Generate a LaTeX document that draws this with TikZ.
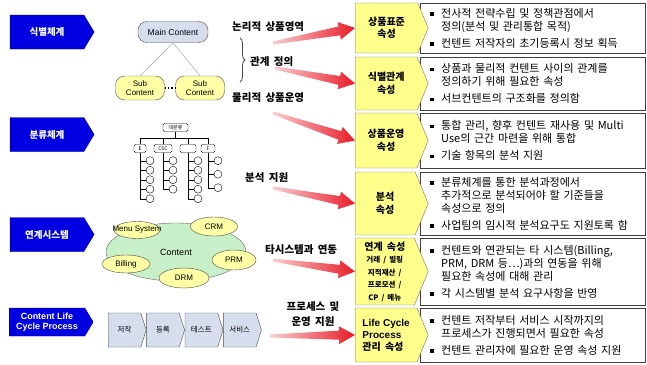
\documentclass[tikz,border=0pt]{standalone}
\usepackage{fontspec}
\setmainfont[WordSpace=1.8]{Noto Sans CJK KR}
\newfontfamily\latin{Liberation Sans}
\usepackage{xcolor}
\usepackage{tikz}
\usetikzlibrary{calc, positioning, shapes.geometric, shapes.symbols, decorations.pathreplacing, arrows.meta}

\definecolor{tabblue}{RGB}{0,0,225}
\definecolor{attryellow}{RGB}{255,255,140}
\definecolor{palegray}{RGB}{214,222,238}
\definecolor{subyellow}{RGB}{255,255,165}
\definecolor{cloudgreen}{RGB}{200,240,200}
\definecolor{arrowred}{RGB}{232,28,40}

\newcommand{\bul}{\makebox[11pt][l]{\rule[1.5pt]{3.5pt}{3.5pt}}}
\newcommand{\ind}{\hspace*{11pt}}
\newcommand{\smalltxt}{\fontsize{7.5}{11}\selectfont}
% 꼬리는 가늘고 머리 쪽은 굵은 빨간 화살표
\newcommand{\redarrow}[2]{%
    \coordinate (hb) at ($(#2)!16pt!(#1)$);
    \shade[left color=arrowred!22, right color=arrowred]
        ($(#1)!1.5pt!90:(#2)$) -- ($(hb)!4.5pt!90:(#2)$) -- ($(hb)!9pt!90:(#2)$)
        -- (#2) -- ($(hb)!9pt!-90:(#2)$) -- ($(hb)!4.5pt!-90:(#2)$)
        -- ($(#1)!1.5pt!-90:(#2)$) -- cycle;
}

\tikzset{
  tabarrow/.style={signal, signal to=east, signal pointer angle=118, fill=tabblue,
    draw=tabblue!60!black, text=white, font=\bfseries\fontsize{9.5}{11}\selectfont,
    minimum width=84pt, minimum height=34pt, inner sep=1pt, align=center},
  attrbox/.style={signal, signal to=east, signal pointer angle=135, fill=attryellow,
    draw=black!55, font=\bfseries\fontsize{10}{12.5}\selectfont,
    minimum width=73pt, inner sep=1pt, align=center, anchor=west},
  descbox/.style={rectangle, draw=black!75, fill=white, minimum width=225pt,
    text width=205pt, inner xsep=10pt, align=left, anchor=north west,
    font=\fontsize{11}{13}\selectfont},
  midlbl/.style={font=\bfseries\fontsize{10.5}{15}\selectfont, anchor=west, inner sep=0pt},
  mainnode/.style={rectangle, rounded corners=9pt, draw=black!70, fill=palegray,
    font=\latin\fontsize{8.5}{9}\selectfont, minimum width=70pt, minimum height=21pt, inner sep=1pt},
  subnode/.style={rectangle, rounded corners=9pt, draw=black!70, fill=subyellow,
    font=\latin\fontsize{8}{9.5}\selectfont, minimum width=49pt, minimum height=24pt,
    inner sep=1pt, align=center},
  treebox/.style={rectangle, rounded corners=1.5pt, draw, fill=white,
    font=\fontsize{5}{6}\selectfont, minimum height=8pt, inner sep=1pt},
  leaf/.style={circle, draw, fill=white, minimum size=8pt, inner sep=0pt},
  sysnode/.style={ellipse, draw=black!70, fill=subyellow, font=\latin\fontsize{8}{9}\selectfont, inner sep=0pt},
  stepnode/.style={signal, signal to=east, signal pointer angle=145, draw=black!70,
    fill=palegray, font=\fontsize{7.5}{9}\selectfont, minimum width=38pt,
    minimum height=34pt, inner sep=1pt},
}

\begin{document}
\begin{tikzpicture}[x=1pt, y=-1pt, >=Stealth]
    \useasboundingbox (0,0) rectangle (647,364);

    % 좌측 구분 라벨
    \node[tabarrow] (sik) at (47,32) {식별체계};
    \node[tabarrow] (bun) at (47,134.5) {분류체계};
    \node[tabarrow] (yeon) at (47,234.5) {연계시스템};
    \node[tabarrow, minimum height=28pt, font=\latin\bfseries\fontsize{9}{10.5}\selectfont] (clc) at (47,322) {Content Life\\Cycle Process};

    % 식별체계 그림
    \node[mainnode] (main) at (173,32) {Main Content};
    \node[subnode] (sub1) at (140,88) {Sub\\Content};
    \node[subnode] (sub2) at (200,88) {Sub\\Content};
    \draw[black!40] (main.south) -- (sub1.north);
    \draw[black!40] (main.south) -- (sub2.north);
    \draw[dotted, line width=1.3pt] (sub1) -- (sub2);

    % 분류체계 트리
    \node[treebox, minimum width=25pt] (dae) at (175.5,127.5) {대분류};
    \node[treebox, minimum width=12pt] (c1) at (140,148.5) {E};
    \node[treebox, minimum width=18pt] (c2) at (163,148.5) {CSC};
    \node[treebox, minimum width=16pt] (c3) at (188,148.5) {};
    \node[treebox, minimum width=14pt] (c4) at (208,148.5) {F};
    \draw (dae.south) -- ++(0,6) coordinate (bus);
    \foreach \c in {c1,c2,c3,c4}
        \draw (bus) -| (\c.north);
    \foreach \c/\n/\dy in {c1/5/9.5, c2/4/9.5, c3/5/9.5, c4/3/13.5}{
        \foreach \k in {1,...,\n}{
            \node[leaf] (\c-\k) at ($(\c.south)+(10,{8+(\k-1)*\dy})$) {};
            \draw (\c.south) |- (\c-\k.west);
        }
    }

    % 연계시스템 그림
    \node[ellipse, draw=black!60, fill=cloudgreen, minimum width=140pt, minimum height=58pt,
        font=\latin\fontsize{9}{10}\selectfont] (content) at (176,252) {Content};
    \node[sysnode, minimum width=46pt, minimum height=17pt, inner xsep=-10pt] (menu) at (137,230) {Menu System};
    \node[sysnode, minimum width=47pt, minimum height=19pt] (crm) at (214,226.5) {CRM};
    \node[sysnode, minimum width=48pt, minimum height=18pt] (billing) at (126,264) {Billing};
    \node[sysnode, minimum width=50pt, minimum height=20pt] (drm) at (184,278) {DRM};
    \node[sysnode, minimum width=44pt, minimum height=20pt] (prm) at (234,260) {PRM};

    % 프로세스
    \node[stepnode, anchor=west] (p1) at (108,330) {저작};
    \node[stepnode, right=0pt of p1] (p2) {등록};
    \node[stepnode, right=0pt of p2] (p3) {테스트};
    \node[stepnode, right=0pt of p3] (p4) {서비스};

    % 가운데 설명
    \node[midlbl] (logi) at (232,27) {논리적 상품영역};
    \node[midlbl] (rel) at (250,62) {관계 정의};
    \node[midlbl] (phys) at (232,98) {물리적 상품운영};
    \draw[black!70, line width=0.8pt, decorate, decoration={brace, amplitude=5pt}] (240,38) -- (240,82);
    \node[midlbl] (anal) at (245,178) {분석 지원};
    \node[midlbl] (inter) at (265,250) {타시스템과 연동};
    \node[midlbl, anchor=center, align=center] (proc) at (313,314) {프로세스 및\\운영 지원};

    % 우측 설명 박스
    \node[descbox, minimum height=50pt] (d1) at (420,3)
        {\bul 전사적 전략수립 및 정책관점에서\\\ind 정의(분석 및 관리통합 목적)\\[4pt]\bul 컨텐트 저작자의 초기등록시 정보 획득};
    \node[descbox, minimum height=53pt] (d2) at (420,57)
        {\bul 상품과 물리적 컨텐트 사이의 관계를\\\ind 정의하기 위해 필요한 속성\\[4pt]\bul 서브컨텐트의 구조화를 정의함};
    \node[descbox, minimum height=55pt] (d3) at (420,113)
        {\bul 통합 관리, 향후 컨텐트 재사용 및 Multi\\\ind Use의 근간 마련을 위해 통합\\[4pt]\bul 기술 항목의 분석 지원};
    \node[descbox, minimum height=63pt] (d4) at (420,172)
        {\bul 분류체계를 통한 분석과정에서\\\ind 추가적으로 분석되어야 할 기준들을\\\ind 속성으로 정의\\[4pt]\bul 사업팀의 임시적 분석요구도 지원토록 함};
    \node[descbox, minimum height=67pt] (d5) at (420,238)
        {\bul 컨텐트와 연관되는 타 시스템(Billing,\\\ind PRM, DRM 등…)과의 연동을 위해\\\ind 필요한 속성에 대해 관리\\[4pt]\bul 각 시스템별 분석 요구사항을 반영};
    \node[descbox, minimum height=54pt] (d6) at (420,308)
        {\bul 컨텐트 저작부터 서비스 시작까지의\\\ind 프로세스가 진행되면서 필요한 속성\\[4pt]\bul 컨텐트 관리자에 필요한 운영 속성 지원};

    % 속성 박스
    \node[attrbox, minimum height=50pt] (std) at (355,28) {상품표준\\속성};
    \node[attrbox, minimum height=53pt] (idrel) at (355,83.5) {식별관계\\속성};
    \node[attrbox, minimum height=55pt] (ops) at (355,140.5) {상품운영\\속성};
    \node[attrbox, minimum height=63pt] (ana) at (355,203.5) {분석\\속성};
    \node[attrbox, minimum height=67pt] (link) at (355,271.5)
        {연계 속성\\\smalltxt 거래 / 빌링\\\smalltxt 지적재산 /\\\smalltxt 프로모션 /\\\smalltxt CP / 메뉴};
    \node[attrbox, minimum height=54pt, align=left, font=\bfseries\fontsize{10}{12}\selectfont] (lcp) at (355,335)
        {{\latin Life Cycle}\\{\latin Process}\\관리 속성};

    % 빨간 화살표
    \coordinate (t1) at (273,43);
    \coordinate (t2) at (275,68);
    \coordinate (t3) at (273,113);
    \coordinate (t4) at (273,188);
    \coordinate (t5) at (273,260);
    \coordinate (t6) at (270,336);
    \redarrow{t1}{std.west}
    \redarrow{t2}{idrel.west}
    \redarrow{t3}{ops.west}
    \redarrow{t4}{ana.west}
    \redarrow{t5}{link.west}
    \redarrow{t6}{lcp.west}
\end{tikzpicture}
\end{document}
